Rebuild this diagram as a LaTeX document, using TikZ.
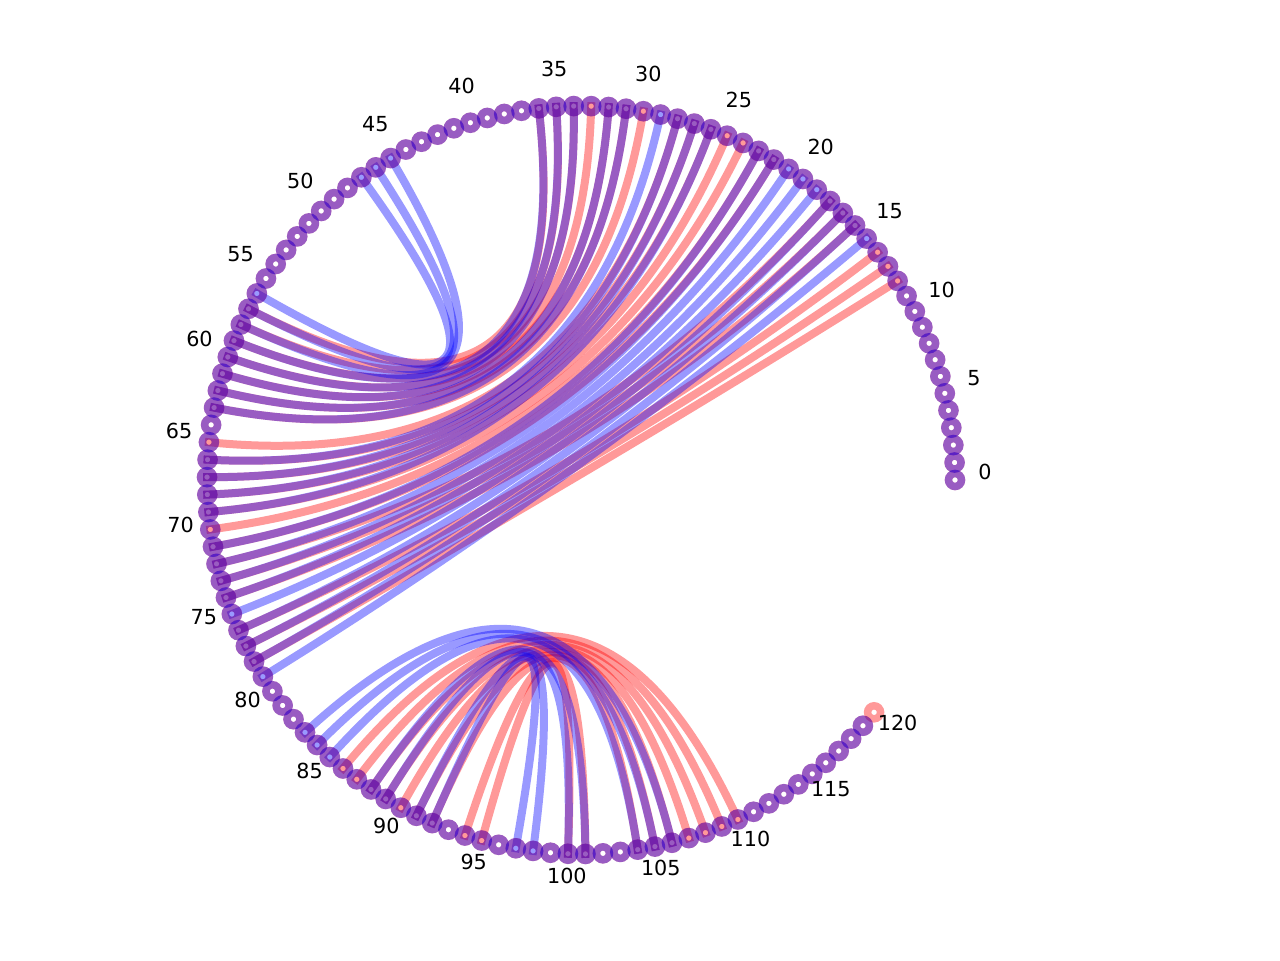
\documentclass[tikz,border=0pt]{standalone}
\usepackage{fontspec}
\setmainfont{DejaVu Sans}
\usetikzlibrary{calc}
\begin{document}
\begin{tikzpicture}[x=0.02cm,y=0.02cm,
  redarc/.style={draw=red, draw opacity=0.4, line width=0.16cm, line cap=rect},
  bluearc/.style={draw=blue, draw opacity=0.4, line width=0.16cm, line cap=rect},
  redring/.style={draw=red, draw opacity=0.4, line width=0.15cm},
  bluering/.style={draw=blue, draw opacity=0.4, line width=0.15cm},
  lbl/.style={font=\fontsize{11.8}{14}\selectfont, text=black, inner sep=0pt}]
\useasboundingbox (0,0) rectangle (1280,960);
\coordinate (c) at (581,480);
\foreach \i in {0,...,120}
  \coordinate (p\i) at ({581+374*cos(\i*2.68)},{480+374*sin(\i*2.68)});
% red structure arcs
\foreach \a/\b in {12/78,13/77,14/76,16/74,17/73,18/72,22/71,23/70,24/69,25/68,26/67,27/66,28/65,30/63,31/62,32/61,33/60,34/59,35/58,36/57,
                   86/110,87/109,88/108,89/107,90/106,91/105,92/104,94/101,95/100}
  \draw[redarc] (p\a) .. controls ($(p\a)!0.6667!(c)$) and ($(p\b)!0.6667!(c)$) .. (p\b);
% blue structure arcs
\foreach \a/\b in {15/79,16/78,17/77,18/76,19/75,20/74,21/73,22/72,23/71,26/69,27/68,28/67,29/66,31/63,32/62,34/61,35/60,36/59,45/58,46/57,47/56,
                   83/106,84/105,85/104,88/101,89/100,91/98,92/97}
  \draw[bluearc] (p\a) .. controls ($(p\a)!0.6667!(c)$) and ($(p\b)!0.6667!(c)$) .. (p\b);
% markers
\foreach \i in {0,...,120}
  \draw[redring] (p\i) circle[radius=6.5];
\foreach \i in {0,...,119}
  \draw[bluering] (p\i) circle[radius=6.5];
% labels
\foreach \i in {0,5,...,120}
  \node[lbl] (l\i) at ({581+404*cos(\i*2.68)},{488+404*sin(\i*2.68)}) {\i};
\end{tikzpicture}
\end{document}
